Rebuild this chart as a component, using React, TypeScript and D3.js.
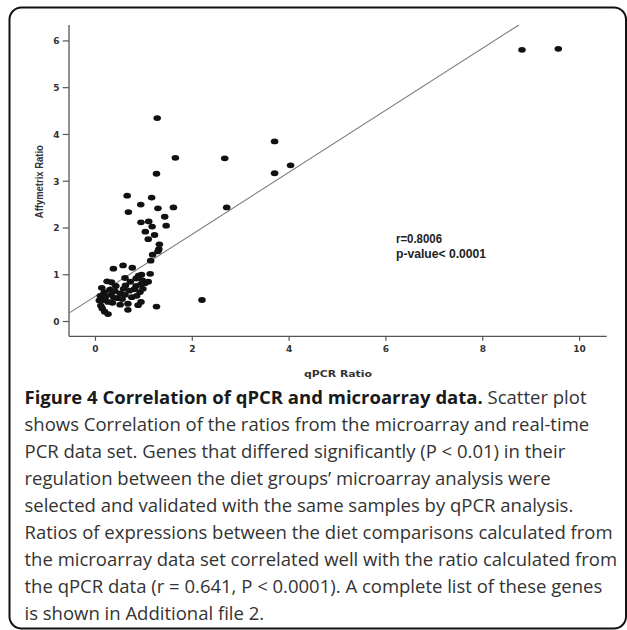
import React from "react";
import * as d3 from "d3";

// qPCR ratio (x) vs Affymetrix ratio (y)
const qpcrRatio: number[] = [
  8.81, 9.56, 1.275, 3.70, 1.65, 2.67, 1.26, 3.70, 4.03, 2.71, 2.20, 1.26,
  0.655, 0.68, 0.935, 1.16, 1.29, 1.61, 0.94, 1.10, 1.17, 1.43, 1.46, 1.03,
  1.22, 1.09, 1.32, 1.31, 1.29, 1.18, 1.14,
  0.37, 0.57, 0.76, 0.95, 1.13, 0.89, 0.97, 1.09, 0.84, 0.61, 0.24, 0.33,
  0.13, 0.42, 0.62, 0.84, 0.94, 1.02, 0.18, 0.30, 0.51, 0.70, 0.92, 0.80,
  0.46, 0.32, 0.16, 0.26, 0.61, 0.75, 0.94, 0.67, 0.51, 0.11, 0.19, 0.26,
  0.67, 0.38, 0.08, 0.85, 0.55, 0.40, 0.72, 0.20, 0.10, 0.88, 0.14, 0.35,
  0.58, 0.98,
];
const affyRatio: number[] = [
  5.81, 5.83, 4.35, 3.85, 3.50, 3.49, 3.16, 3.17, 3.34, 2.44, 0.46, 0.32,
  2.69, 2.34, 2.50, 2.65, 2.42, 2.44, 2.12, 2.14, 2.03, 2.24, 2.05, 1.92,
  1.85, 1.76, 1.65, 1.55, 1.50, 1.43, 1.30,
  1.13, 1.20, 1.15, 1.00, 1.02, 0.98, 0.88, 0.85, 0.92, 0.93, 0.86, 0.84,
  0.72, 0.76, 0.77, 0.76, 0.80, 0.82, 0.62, 0.68, 0.60, 0.66, 0.63, 0.69,
  0.50, 0.57, 0.46, 0.42, 0.57, 0.52, 0.42, 0.38, 0.36, 0.34, 0.21, 0.16,
  0.25, 0.51, 0.45, 0.55, 0.48, 0.65, 0.85, 0.52, 0.55, 0.35, 0.28, 0.40,
  0.70, 0.70,
];

const xTicks: number[] = [0, 2, 4, 6, 8, 10];
const yTicks: number[] = [0, 1, 2, 3, 4, 5, 6];

const fitIntercept = 0.542;
const fitSlope = 0.663;

const statLines: string[] = ["r=0.8006", "p-value< 0.0001"];

const captionTitle = "Figure 4 Correlation of qPCR and microarray data.";
const captionLines: string[] = [
  " Scatter plot",
  "shows Correlation of the ratios from the microarray and real-time",
  "PCR data set. Genes that differed significantly (P < 0.01) in their",
  "regulation between the diet groups\u2019 microarray analysis were",
  "selected and validated with the same samples by qPCR analysis.",
  "Ratios of expressions between the diet comparisons calculated from",
  "the microarray data set correlated well with the ratio calculated from",
  "the qPCR data (r = 0.641, P < 0.0001). A complete list of these genes",
  "is shown in Additional file 2.",
];

export default function App() {
  const W = 627;
  const H = 630;
  const x = d3.scaleLinear().domain([-0.547, 10.56]).range([69, 606.7]);
  const y = d3.scaleLinear().domain([-0.316, 6.34]).range([336.3, 25]);
  const [x0, x1] = x.domain();
  const [y0, y1] = y.domain();

  const xEnd = (y1 - fitIntercept) / fitSlope;
  const line = d3.line<[number, number]>()
    .x((d) => x(d[0]))
    .y((d) => y(d[1]));
  const fitPath = line([
    [x0, fitIntercept + fitSlope * x0],
    [xEnd, fitIntercept + fitSlope * xEnd],
  ]);

  const axisColor = "#555";
  const labelColor = "#333";
  const tickFont = "'DejaVu Sans', sans-serif";
  const captionFont = "'Open Sans', sans-serif";
  const captionSize = 18.5;
  const lineH = 27;
  const capX = 24.5;
  const capY = 404;

  return (
    <svg
      width={W}
      height={H}
      style={{ position: "absolute", left: 0, top: 0, display: "block", background: "#fff" }}
    >
      <rect x={0} y={0} width={W} height={H} fill="#fff" />
      <rect x={9.5} y={7.5} width={616.5} height={621} rx={12} fill="none" stroke="#111" strokeWidth={2} />

      {/* axes */}
      <line x1={x(x0)} x2={x(x0)} y1={y(y1)} y2={y(y0)} stroke={axisColor} strokeWidth={1.3} />
      <line x1={x(x0)} x2={x(x1)} y1={y(y0)} y2={y(y0)} stroke={axisColor} strokeWidth={1.3} />

      {yTicks.map((t) => (
        <g key={"y" + t}>
          <line x1={x(x0) - 6.3} x2={x(x0)} y1={y(t)} y2={y(t)} stroke={axisColor} strokeWidth={1.2} />
          <text
            x={x(x0) - 9.5}
            y={y(t) + 3.4}
            textAnchor="end"
            fontFamily={tickFont}
            fontWeight="bold"
            fontSize={9}
            fill={labelColor}
          >
            {t}
          </text>
        </g>
      ))}
      {xTicks.map((t) => (
        <g key={"x" + t}>
          <line x1={x(t)} x2={x(t)} y1={y(y0)} y2={y(y0) + 4.5} stroke={axisColor} strokeWidth={1.2} />
          <text
            x={x(t)}
            y={351.8}
            textAnchor="middle"
            fontFamily={tickFont}
            fontWeight="bold"
            fontSize={9}
            fill={labelColor}
          >
            {t}
          </text>
        </g>
      ))}

      <text
        x={338}
        y={376.6}
        textAnchor="middle"
        fontFamily={tickFont}
        fontWeight="bold"
        fontSize={9.3}
        fill={labelColor}
        textLength={68}
        lengthAdjust="spacingAndGlyphs"
      >
        qPCR Ratio
      </text>
      <text
        transform={"translate(42.8,181.7) rotate(-90)"}
        textAnchor="middle"
        fontFamily="'Liberation Sans', Arial, sans-serif"
        fontWeight="bold"
        fontSize={11.5}
        fill={labelColor}
        textLength={73}
        lengthAdjust="spacingAndGlyphs"
      >
        Affymetrix Ratio
      </text>

      {/* regression line */}
      <path d={fitPath || ""} stroke="#7a7a7a" strokeWidth={1.1} fill="none" />

      {/* points */}
      {qpcrRatio.map((v, i) => (
        <ellipse key={"p" + i} cx={x(v)} cy={y(affyRatio[i])} rx={3.8} ry={2.9} fill="#111" />
      ))}

      {/* stats */}
      {statLines.map((s, i) => (
        <text
          key={"s" + i}
          x={396}
          y={242.6 + i * 15}
          fontFamily="'Liberation Sans', Arial, sans-serif"
          fontWeight="bold"
          fontSize={12}
          fill="#222"
          textLength={i === 0 ? 46 : 90}
          lengthAdjust="spacingAndGlyphs"
        >
          {s}
        </text>
      ))}

      {/* caption */}
      <text x={capX} y={capY} fontFamily={captionFont} fontSize={captionSize} fill="#333">
        <tspan fontWeight="bold" fill="#1a1a1a">{captionTitle}</tspan>
        <tspan>{captionLines[0]}</tspan>
      </text>
      {captionLines.slice(1).map((l, i) => (
        <text
          key={"c" + i}
          x={capX}
          y={capY + (i + 1) * lineH}
          fontFamily={captionFont}
          fontSize={captionSize}
          fill="#333"
        >
          {l}
        </text>
      ))}
    </svg>
  );
}
